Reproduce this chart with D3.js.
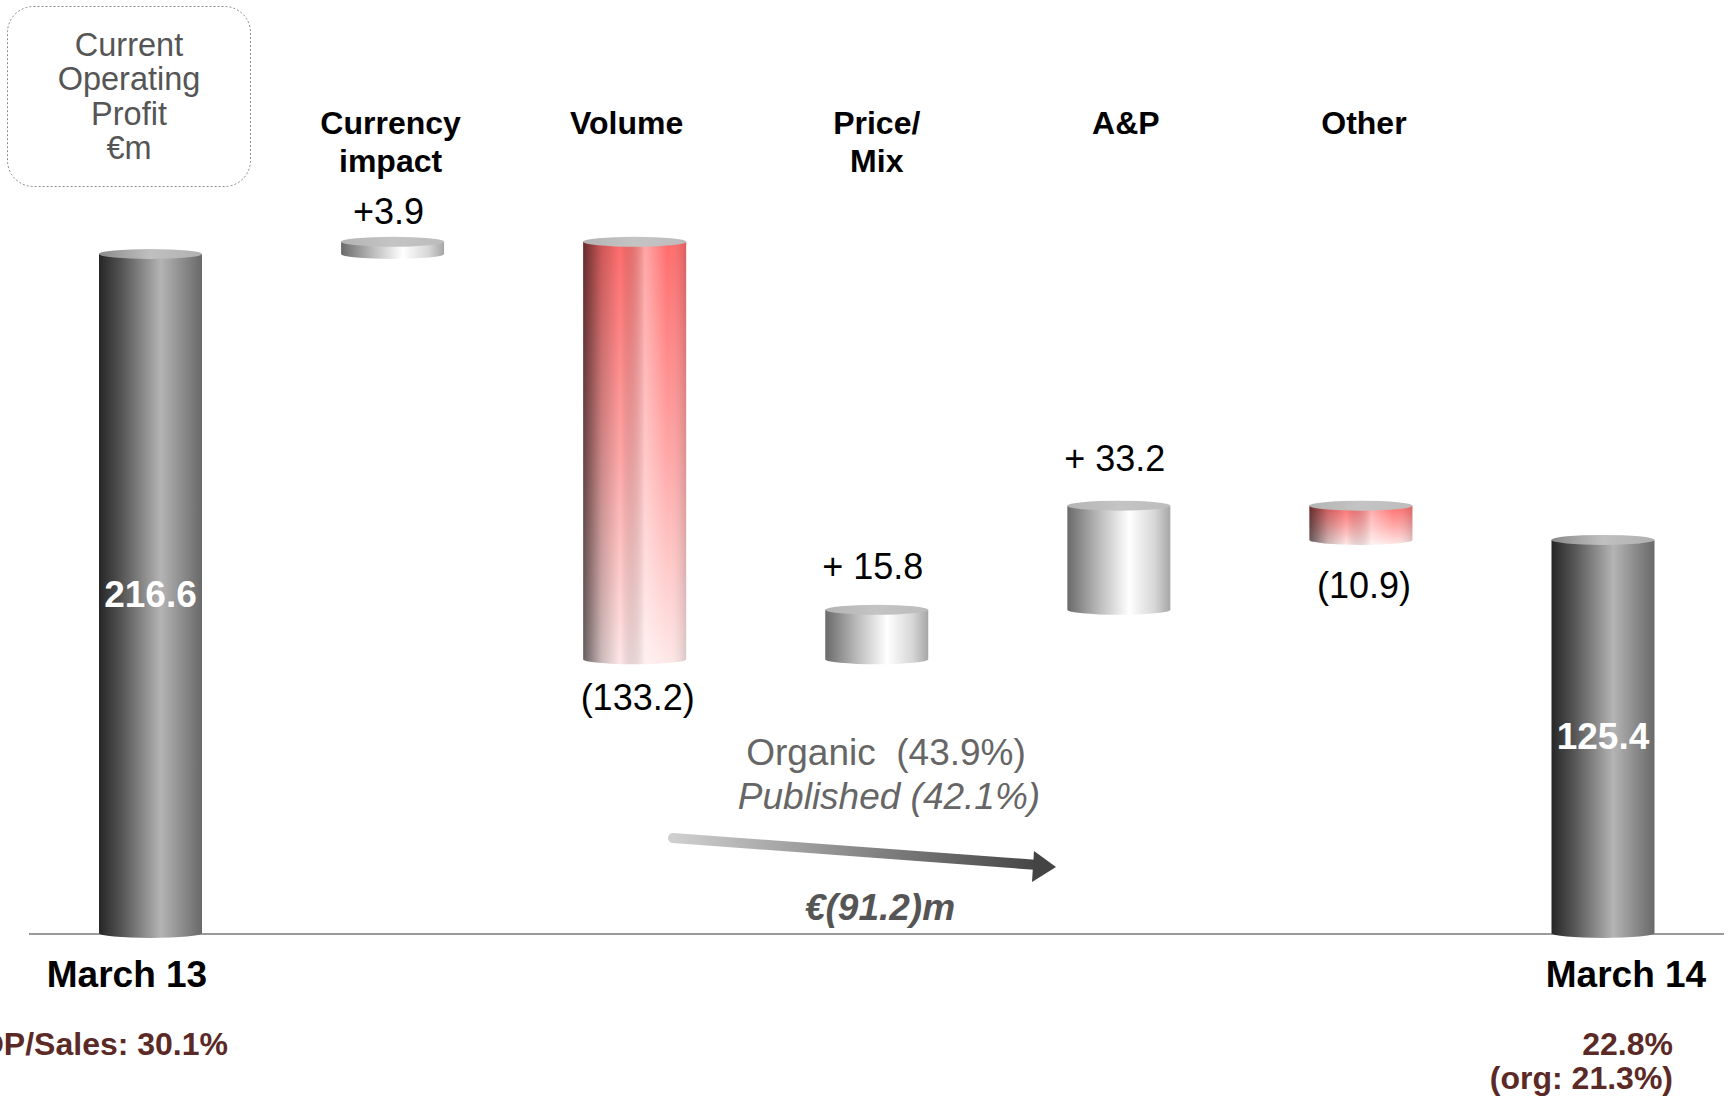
<!DOCTYPE html>
<html>
<head>
<meta charset="utf-8">
<script src="https://cdn.jsdelivr.net/npm/d3@7"></script>
<style>
  html, body { margin: 0; padding: 0; background: #fff; }
  svg { display: block; }
  text { font-family: "Liberation Sans", Arial, Helvetica, sans-serif; }
</style>
</head>
<body>
<svg id="chart" width="1729" height="1096"></svg>
<script>
// Current operating profit bridge, €m
const categories = ["March 13", "Currency impact", "Volume", "Price/Mix", "A&P", "Other", "March 14"];
const headerLines = [null, ["Currency", "impact"], ["Volume"], ["Price/", "Mix"], ["A&P"], ["Other"], null];
const kinds = ["total", "delta", "delta", "delta", "delta", "delta", "total"];
const values = [216.6, 3.9, -133.2, 15.8, 33.2, -10.9, 125.4];
const valueLabels = ["216.6", "+3.9", "(133.2)", "+ 15.8", "+ 33.2", "(10.9)", "125.4"];
const marginLabels = [["COP/Sales: 30.1%"], ["22.8%", "(org: 21.3%)"]];
const growthLines = ["Organic  (43.9%)", "Published (42.1%)"];
const growthTotal = "€(91.2)m";
const boxLines = ["Current", "Operating", "Profit", "€m"];

// small nudges (px) for the step labels and column headers
const labelNudge = [0, 7, -3, -6, -10, 4, 0];
const headerNudge = [0, 1, -5, 3, 10, 6, 0];

const W = 1729, H = 1096;
const svg = d3.select("#chart");
const baseY = 933;

const x = d3.scalePoint().domain(categories).range([150.5, 1603]);
const y = d3.scaleLinear().domain([0, 216.6]).range([baseY, 254]);
const barW = 103, rx = barW / 2, ry = 5;

// Waterfall segments: running start/end for each step
let run = 0;
const bars = categories.map((c, i) => {
  let start, end;
  if (kinds[i] === "total") { start = 0; end = values[i]; run = values[i]; }
  else { start = run; end = run + values[i]; run = end; }
  return { i, cat: c, kind: kinds[i], value: values[i], lo: Math.min(start, end), hi: Math.max(start, end), label: valueLabels[i], header: headerLines[i] };
});

// ---- gradients ----
const defs = svg.append("defs");
function hGrad(id, stops) {
  const g = defs.append("linearGradient").attr("id", id).attr("x1", 0).attr("x2", 1).attr("y1", 0).attr("y2", 0);
  stops.forEach(s => g.append("stop").attr("offset", s[0]).attr("stop-color", s[1]).attr("stop-opacity", s[2] == null ? 1 : s[2]));
}
hGrad("gDark", [[0, "#262626"], [0.22, "#555555"], [0.6, "#b4b4b4"], [0.82, "#8a8a8a"], [1, "#696969"]]);
hGrad("gDarkTop", [[0, "#8a8a8a"], [0.5, "#c0c0c0"], [1, "#b0b0b0"]]);
hGrad("gLight", [[0, "#6a6a6a"], [0.3, "#b9b9b9"], [0.6, "#ffffff"], [0.85, "#d6d6d6"], [1, "#a6a6a6"]]);
hGrad("gTop", [[0, "#b4b4b4"], [0.5, "#c4c4c4"], [1, "#bcbcbc"]]);
hGrad("gRedShade", [[0, "#000", 0.6], [0.18, "#000", 0.2], [0.36, "#000", 0], [0.6, "#fff", 0.4], [0.82, "#fff", 0], [1, "#000", 0.14]]);
const rv = defs.append("linearGradient").attr("id", "gRedBase").attr("x1", 0).attr("x2", 0).attr("y1", 0).attr("y2", 1);
rv.append("stop").attr("offset", 0).attr("stop-color", "#ff6c6c");
rv.append("stop").attr("offset", 0.5).attr("stop-color", "#ffa6a6");
rv.append("stop").attr("offset", 1).attr("stop-color", "#ffe8e8");
const ag = defs.append("linearGradient").attr("id", "gArrow").attr("gradientUnits", "userSpaceOnUse")
  .attr("x1", 673).attr("y1", 838).attr("x2", 1055).attr("y2", 867);
ag.append("stop").attr("offset", 0).attr("stop-color", "#cfcfcf");
ag.append("stop").attr("offset", 1).attr("stop-color", "#3e3e3e");

// ---- baseline ----
svg.append("line").attr("x1", 29).attr("x2", 1724).attr("y1", baseY + 1).attr("y2", baseY + 1)
  .attr("stroke", "#9a9a9a").attr("stroke-width", 2);

// ---- cylinders ----
function bodyPath(cx, yt, yb) {
  const l = cx - rx, r = cx + rx;
  return `M${l},${yt} L${l},${yb} A${rx},${ry} 0 0 0 ${r},${yb} L${r},${yt} Z`;
}
const g = svg.append("g").selectAll("g").data(bars).join("g");
g.each(function (d) {
  const sel = d3.select(this);
  const cx = x(d.cat), yt = y(d.hi), yb = y(d.lo);
  const p = bodyPath(cx, yt, yb);
  if (d.kind === "total") {
    sel.append("path").attr("d", p).attr("fill", "url(#gDark)");
    sel.append("ellipse").attr("cx", cx).attr("cy", yt).attr("rx", rx).attr("ry", ry).attr("fill", "url(#gDarkTop)");
  } else if (d.value >= 0) {
    sel.append("path").attr("d", p).attr("fill", "url(#gLight)");
    sel.append("ellipse").attr("cx", cx).attr("cy", yt).attr("rx", rx).attr("ry", ry).attr("fill", "url(#gTop)");
  } else {
    sel.append("path").attr("d", p).attr("fill", "url(#gRedBase)");
    sel.append("path").attr("d", p).attr("fill", "url(#gRedShade)");
    sel.append("ellipse").attr("cx", cx).attr("cy", yt).attr("rx", rx).attr("ry", ry).attr("fill", "url(#gTop)");
  }
});

// ---- value labels ----
svg.append("g").selectAll("text").data(bars).join("text")
  .attr("x", d => x(d.cat) + (d.kind === "total" ? 0 : (d.value < 0 ? 3 : -4)))
  .attr("y", d => {
    if (d.kind === "total") return (y(d.hi) + y(d.lo)) / 2 + 13;
    return (d.value >= 0 ? y(d.hi) - 38 + 13 : y(d.lo) + 41 + 13) + labelNudge[d.i];
  })
  .attr("text-anchor", "middle")
  .attr("font-size", d => d.kind === "total" ? 37 : 36)
  .attr("font-weight", d => d.kind === "total" ? "bold" : "normal")
  .attr("fill", d => d.kind === "total" ? "#fff" : "#000")
  .text(d => d.label);

// ---- column headers ----
const hdr = svg.append("g").selectAll("text").data(bars.filter(d => d.header)).join("text")
  .attr("text-anchor", "middle").attr("font-size", 32).attr("font-weight", "bold").attr("fill", "#000");
hdr.each(function (d) {
  const t = d3.select(this);
  d.header.forEach((line, k) => {
    t.append("tspan").attr("x", x(d.cat) - 3 + headerNudge[d.i]).attr("y", 134 + k * 38).text(line);
  });
});

// ---- period labels under the axis ----
svg.append("text").attr("x", 127).attr("y", 987).attr("text-anchor", "middle")
  .attr("font-size", 37).attr("font-weight", "bold").text(categories[0]);
svg.append("text").attr("x", 1626).attr("y", 987).attr("text-anchor", "middle")
  .attr("font-size", 37).attr("font-weight", "bold").text(categories[6]);

// ---- margin notes ----
const brown = "#5b2a26";
svg.append("text").attr("x", 228).attr("y", 1055).attr("text-anchor", "end")
  .attr("font-size", 32).attr("font-weight", "bold").attr("fill", brown).text(marginLabels[0][0]);
marginLabels[1].forEach((s, k) => {
  svg.append("text").attr("x", 1673).attr("y", 1055 + k * 34).attr("text-anchor", "end")
    .attr("font-size", 32).attr("font-weight", "bold").attr("fill", brown).text(s);
});

// ---- unit box ----
svg.append("rect").attr("x", 7.5).attr("y", 6.5).attr("width", 243).attr("height", 180)
  .attr("rx", 26).attr("ry", 26).attr("fill", "#fff")
  .attr("stroke", "#8a8a8a").attr("stroke-width", 1).attr("stroke-dasharray", "2,2");
boxLines.forEach((s, k) => {
  svg.append("text").attr("x", 129).attr("y", 56 + k * 34.4).attr("text-anchor", "middle")
    .attr("font-size", 32.5).attr("fill", "#555").text(s);
});

// ---- organic / published change with arrow ----
svg.append("text").attr("x", 886).attr("y", 765).attr("text-anchor", "middle")
  .attr("font-size", 37).attr("fill", "#666").attr("xml:space", "preserve").text(growthLines[0]);
svg.append("text").attr("x", 889).attr("y", 809).attr("text-anchor", "middle")
  .attr("font-size", 37).attr("font-style", "italic").attr("fill", "#666").text(growthLines[1]);

svg.append("line").attr("x1", 673).attr("y1", 838).attr("x2", 1038).attr("y2", 865)
  .attr("stroke", "url(#gArrow)").attr("stroke-width", 10).attr("stroke-linecap", "round");
svg.append("path").attr("d", "M1034,851 L1056,867 L1032,882 Z").attr("fill", "#444");

svg.append("text").attr("x", 880).attr("y", 920).attr("text-anchor", "middle")
  .attr("font-size", 37).attr("font-weight", "bold").attr("font-style", "italic").attr("fill", "#555")
  .text(growthTotal);
</script>
</body>
</html>
